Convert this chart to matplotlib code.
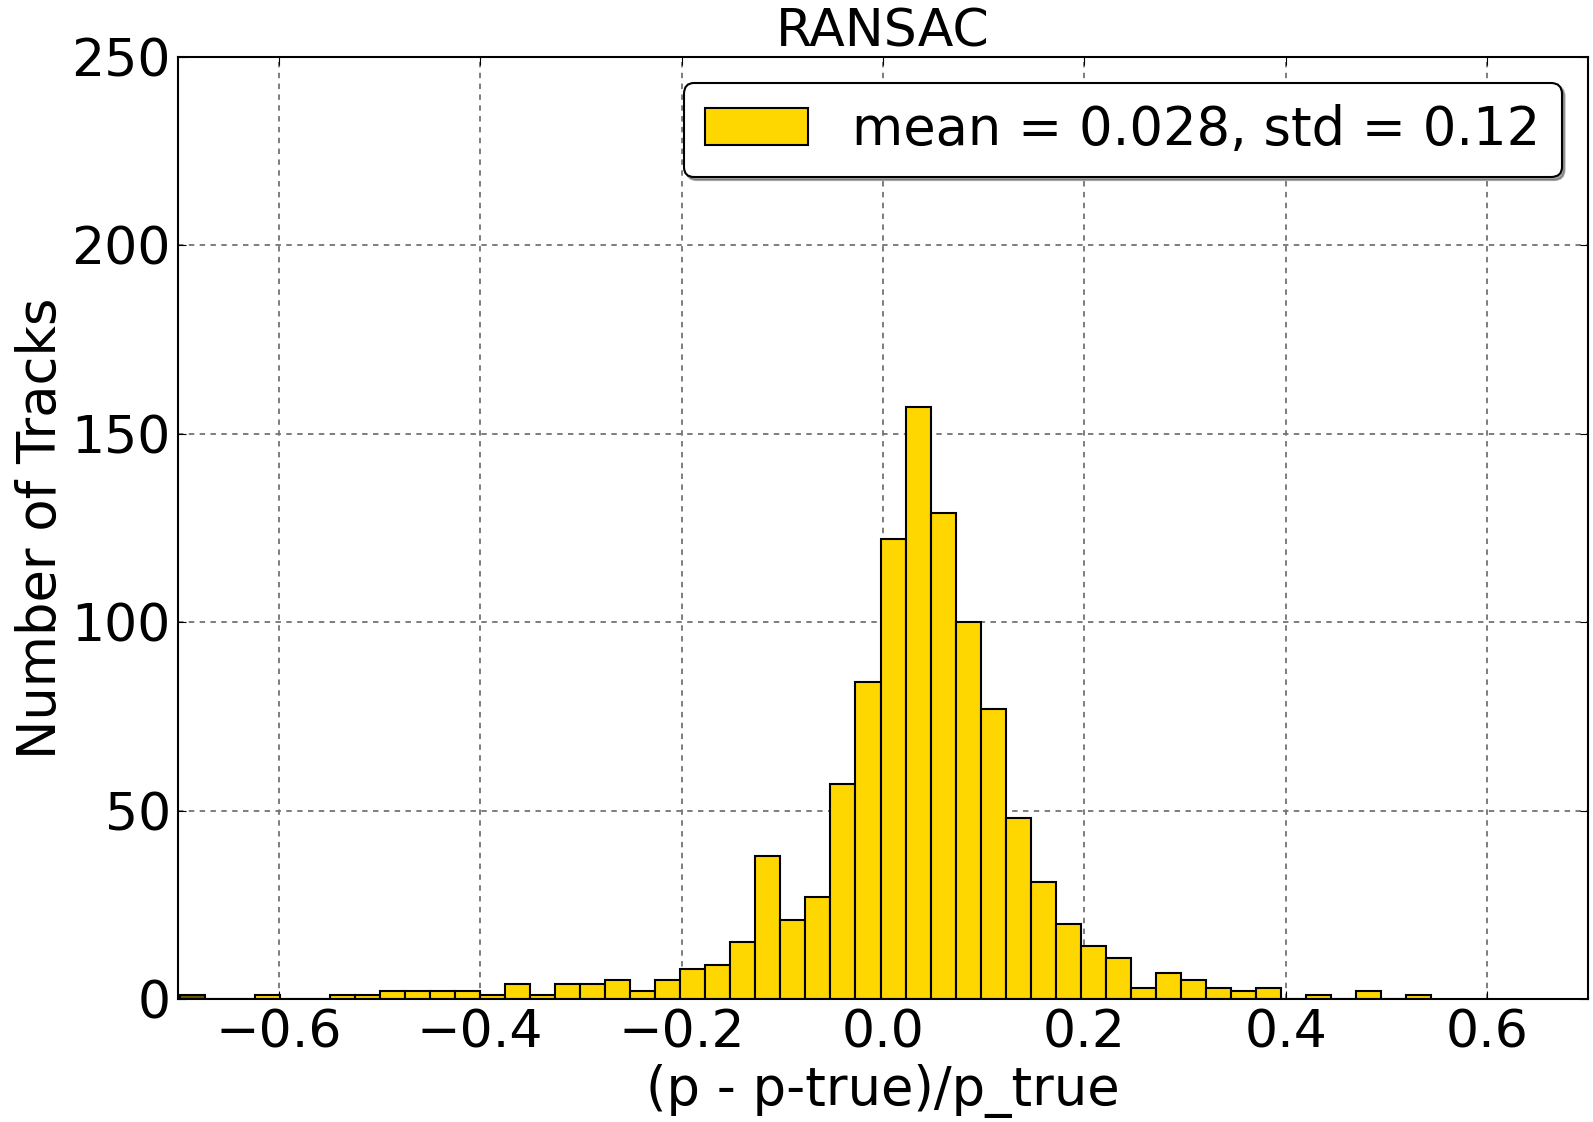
import matplotlib
matplotlib.use('Agg')
import matplotlib.pyplot as plt
from matplotlib.patches import Patch
import numpy as np

# histogram of relative momentum error, 50 bins from data min to max
bin_min = -0.698
bin_max = 0.544
counts = [1, 0, 0, 1, 0, 0, 1, 1, 2, 2,
          2, 2, 1, 4, 1, 4, 4, 5, 2, 5,
          8, 9, 15, 38, 21, 27, 57, 84, 122, 157,
          129, 100, 77, 48, 31, 20, 14, 11, 3, 7,
          5, 3, 2, 3, 0, 1, 0, 2, 0, 1]
label = "mean = 0.028, std = 0.12"
xticks = [-0.6, -0.4, -0.2, 0.0, 0.2, 0.4, 0.6]
yticks = [0, 50, 100, 150, 200, 250]

edges = np.linspace(bin_min, bin_max, len(counts) + 1)

plt.rcParams['font.family'] = 'DejaVu Sans'
fig = plt.figure(figsize=(15.93, 11.22), dpi=100)
ax = fig.add_axes([0.1117, 0.1096, 0.9969 - 0.1117, 0.9495 - 0.1096])

bars = ax.bar(edges[:-1], counts, width=np.diff(edges), align='edge',
              color='gold', edgecolor='black', linewidth=1.5, zorder=2)
bars[0].set_facecolor('#6b5a00')  # first bin looks darker in the original

ax.set_xlim(-0.7, 0.7)
ax.set_ylim(0, 250)
ax.set_xticks(xticks)
ax.set_yticks(yticks)
ax.set_xticklabels([f"{t:.1f}".replace('-', '\u2212') for t in xticks])
ax.tick_params(labelsize=37.5, direction='in', length=6, top=True, right=True,
               pad=7)
ax.tick_params(axis='y', pad=5)
ax.grid(True, color='0.45', linestyle=(0, (3, 3)), linewidth=1.3, zorder=0)
ax.set_axisbelow(True)
for s in ax.spines.values():
    s.set_linewidth(1.5)

ax.set_title("RANSAC", fontsize=37.5, pad=7)
ax.set_xlabel("(p - p-true)/p_true", fontsize=38, labelpad=4)
ax.set_ylabel("Number of Tracks", fontsize=38, labelpad=3)

handle = Patch(facecolor='gold', edgecolor='black', linewidth=1.5)
leg = ax.legend([handle], [label], loc='upper right', fontsize=38,
                fancybox=True, shadow=True, handlelength=1.95,
                handleheight=0.7, borderpad=0.4, handletextpad=0.85,
                borderaxespad=0.5)
leg.get_frame().set_edgecolor('black')
leg.get_frame().set_linewidth(1.5)

fig.savefig('out.png', dpi=100)
